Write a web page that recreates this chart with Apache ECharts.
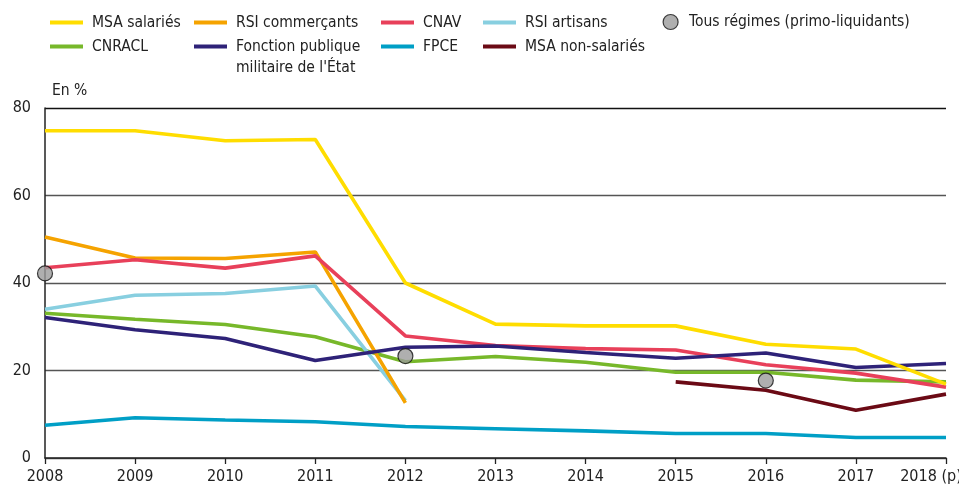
<!DOCTYPE html>
<html><head><meta charset="utf-8">
<script src="https://cdn.jsdelivr.net/npm/echarts@6/dist/echarts.min.js"></script>
<style>html,body{margin:0;padding:0;background:#fff}#c{width:959px;height:485px}</style>
</head><body><div id="c"></div>
<script>
const years = ['2008','2009','2010','2011','2012','2013','2014','2015','2016','2017','2018 (p)'];
const yTicks = [0,20,40,60,80];
const msaSalaries   = [74.8,74.8,72.5,72.8,40.0,30.6,30.2,30.2,26.0,24.9,16.9];
const rsiCommercants= [50.5,45.7,45.6,47.1,12.6,null,null,null,null,null,null];
const cnav          = [43.5,45.3,43.4,46.2,27.9,25.7,25.0,24.7,21.3,19.4,16.2];
const rsiArtisans   = [34.0,37.2,37.6,39.3,13.1,null,null,null,null,null,null];
const cnracl        = [33.1,31.7,30.5,27.7,22.0,23.2,21.9,19.6,19.6,17.8,17.4];
const fonctionPub   = [32.1,29.3,27.3,22.3,25.3,25.6,24.1,22.8,24.0,20.7,21.6];
const fpce          = [7.5,9.2,8.7,8.3,7.2,6.7,6.2,5.6,5.6,4.7,4.7];
const msaNonSal     = [null,null,null,null,null,null,null,17.4,15.5,10.9,14.6];
const tousRegimes   = [42.2,null,null,null,23.3,null,null,null,17.7,null,null];

const FONT = "'DejaVu Sans Condensed','Liberation Sans Narrow','Noto Sans',sans-serif";
const lineDefs = [
  {name:'MSA salariés', data:msaSalaries, color:'#FFDD00'},
  {name:'RSI commerçants', data:rsiCommercants, color:'#F5A300'},
  {name:'CNAV', data:cnav, color:'#E8405A'},
  {name:'RSI artisans', data:rsiArtisans, color:'#88CFE0'},
  {name:'CNRACL', data:cnracl, color:'#77B82A'},
  {name:'Fonction publique militaire de l\'État', data:fonctionPub, color:'#2E2278'},
  {name:'FPCE', data:fpce, color:'#009FC6'},
  {name:'MSA non-salariés', data:msaNonSal, color:'#6B0A15'}
];
const zOrder = {'FPCE':1,'CNRACL':2,'RSI artisans':3,'RSI commerçants':4,'CNAV':5,'Fonction publique militaire de l\'État':6,'MSA non-salariés':7,'MSA salariés':8};

const series = lineDefs.map(d => ({
  name:d.name, type:'line', data:d.data, symbol:'none', z: zOrder[d.name],
  lineStyle:{color:d.color, width:3.6}, itemStyle:{color:d.color},
  connectNulls:false, animation:false
}));
series.push({
  name:'Tous régimes (primo-liquidants)', type:'scatter', data:tousRegimes, z:20,
  symbol:'circle', symbolSize:15,
  itemStyle:{color:'#9B9B9B', borderColor:'#111', borderWidth:1.2}, animation:false
});

const LH = 21;
const legendPos = [
  ['MSA salariés',50,22.5],['RSI commerçants',194,22.5],['CNAV',381,22.5],['RSI artisans',483,22.5],
  ['CNRACL',50,46.5],['Fonction publique militaire de l\'État',194,46.5],['FPCE',381,46.5],['MSA non-salariés',483,46.5]
];
const legends = legendPos.map(([n,x,cy]) => {
  const two = n.startsWith('Fonction');
  return {
    data:[n], left:x, top: two ? cy - 1.5*LH : cy - LH/2, padding:0,
    itemWidth:33, itemHeight:4, icon:'rect', itemGap:0,
    formatter: two ? ' \nFonction publique\nmilitaire de l\'État' : '{name}',
    textStyle:{fontFamily:FONT, fontSize:15.5, color:'#222', lineHeight:LH, padding:[0,0,0,4]},
    selectedMode:false
  };
});
legends.push({
  data:[{name:'Tous régimes (primo-liquidants)', icon:'circle'}], left:662.5, top:22 - LH/2, padding:0,
  itemWidth:15, itemHeight:15, selectedMode:false,
  itemStyle:{color:'#9B9B9B', borderColor:'#111', borderWidth:1.2},
  textStyle:{fontFamily:FONT, fontSize:15.5, color:'#222', lineHeight:LH, padding:[0,0,0,6]}
});

const chart = echarts.init(document.getElementById('c'), null, {renderer:'canvas'});
chart.setOption({
  animation:false,
  backgroundColor:'#fff',
  legend: legends,
  graphic:[{type:'text', left:52, top:83, style:{text:'En %', font:"15.5px "+FONT, fill:'#222'}}],
  grid:{left:45, right:13, top:108, bottom:27, containLabel:false, outerBoundsMode:'none'},
  xAxis:{type:'category', data:years, boundaryGap:false,
    axisLine:{lineStyle:{color:'#222', width:1.5}},
    axisTick:{show:true, length:6, lineStyle:{color:'#222', width:1.3}},
    axisLabel:{fontFamily:FONT, fontSize:16, color:'#222', margin:11, interval:0,
      formatter:(v)=> v.indexOf('(p)')>=0 ? '{last|'+v+'}' : v,
      rich:{last:{fontFamily:FONT, fontSize:16, color:'#222', padding:[0,30,0,0]}}},
    splitLine:{show:false}},
  yAxis:{type:'value', min:0, max:80, interval:20,
    axisLine:{show:true, lineStyle:{color:'#222', width:1.5}},
    axisTick:{show:false},
    axisLabel:{fontFamily:FONT, fontSize:16, color:'#222', margin:14},
    splitLine:{show:true, lineStyle:{color:['#555','#555','#555','#555','#111'], width:1.4}}},
  series: series
});
</script></body></html>
